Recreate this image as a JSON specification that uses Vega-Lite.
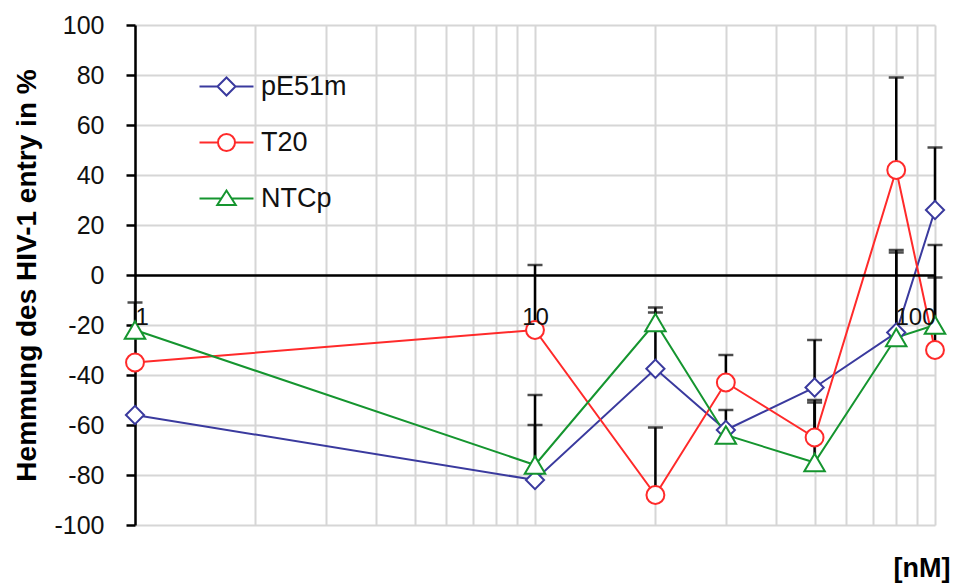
{
  "$schema": "https://vega.github.io/schema/vega-lite/v6.json",
  "width": 800,
  "height": 500,
  "autosize": {"type": "none"},
  "padding": {"left": 135, "top": 25, "right": 21, "bottom": 60},
  "background": "white",
  "config": {
    "font": "Liberation Sans",
    "view": {"stroke": null},
    "axis": {"labelColor": "#111111", "titleColor": "#000000"}
  },
  "data": {
    "values": [
      {"series": "pE51m", "conc": 1, "mean": -56, "hi": null},
      {"series": "pE51m", "conc": 10, "mean": -82, "hi": -60},
      {"series": "pE51m", "conc": 20, "mean": -37.5, "hi": -15},
      {"series": "pE51m", "conc": 30, "mean": -62, "hi": -54},
      {"series": "pE51m", "conc": 50, "mean": -45, "hi": -26},
      {"series": "pE51m", "conc": 80, "mean": -23, "hi": 10},
      {"series": "pE51m", "conc": 100, "mean": 26, "hi": 51},
      {"series": "T20", "conc": 1, "mean": -35, "hi": null},
      {"series": "T20", "conc": 10, "mean": -22, "hi": 4},
      {"series": "T20", "conc": 20, "mean": -88, "hi": -61},
      {"series": "T20", "conc": 30, "mean": -43, "hi": -32},
      {"series": "T20", "conc": 50, "mean": -65, "hi": -50},
      {"series": "T20", "conc": 80, "mean": 42, "hi": 79},
      {"series": "T20", "conc": 100, "mean": -30, "hi": -1},
      {"series": "NTCp", "conc": 1, "mean": -22, "hi": -11},
      {"series": "NTCp", "conc": 10, "mean": -76, "hi": -48},
      {"series": "NTCp", "conc": 20, "mean": -19, "hi": -13},
      {"series": "NTCp", "conc": 30, "mean": -64, "hi": null},
      {"series": "NTCp", "conc": 50, "mean": -75, "hi": -51},
      {"series": "NTCp", "conc": 80, "mean": -25, "hi": 9},
      {"series": "NTCp", "conc": 100, "mean": -20, "hi": 12}
    ]
  },
  "resolve": {"axis": {"x": "independent", "y": "independent"}},
  "layer": [
    {
      "transform": [{"filter": {"field": "hi", "valid": true}}],
      "mark": {"type": "rule", "color": "black", "strokeWidth": 2.5},
      "encoding": {
        "x": {
          "field": "conc", "type": "quantitative",
          "scale": {"type": "log", "domain": [1, 100], "nice": false},
          "axis": {
            "orient": "bottom",
            "values": [1, 2, 3, 4, 5, 6, 7, 8, 9, 10, 20, 30, 40, 50, 60, 70, 80, 90, 100],
            "grid": true, "gridColor": "#d6d6d6", "gridWidth": 2,
            "labels": false, "ticks": false, "domain": false,
            "title": "[nM]", "titleFontSize": 27, "titleFontWeight": "bold",
            "titleAlign": "right", "titleBaseline": "middle",
            "titleX": 815, "titleY": 43, "zindex": 0
          }
        },
        "y": {
          "field": "mean", "type": "quantitative",
          "scale": {"domain": [-100, 100], "nice": false, "zero": false},
          "axis": {
            "orient": "left",
            "values": [-100, -80, -60, -40, -20, 0, 20, 40, 60, 80, 100],
            "labelExpr": "'' + datum.value",
            "grid": true, "gridColor": "#d6d6d6", "gridWidth": 2,
            "domainColor": "black", "domainWidth": 2.5,
            "tickColor": "black", "tickWidth": 2.5, "tickSize": 9,
            "labelFontSize": 25, "labelPadding": 22,
            "title": "Hemmung des HIV-1 entry in %",
            "titleFontSize": 28, "titleFontWeight": "bold", "titlePadding": 12,
            "zindex": 0
          }
        },
        "y2": {"field": "hi"}
      }
    },
    {
      "transform": [{"filter": {"field": "hi", "valid": true}}],
      "mark": {"type": "tick", "orient": "horizontal", "color": "black", "size": 15, "thickness": 2.5},
      "encoding": {
        "x": {"field": "conc", "type": "quantitative", "axis": null},
        "y": {"field": "hi", "type": "quantitative", "axis": null}
      }
    },
    {
      "mark": {"type": "line", "strokeWidth": 2},
      "encoding": {
        "x": {
          "field": "conc", "type": "quantitative",
          "axis": {
            "orient": "bottom", "offset": -250,
            "values": [1, 10, 100], "format": "d",
            "grid": false, "ticks": false, "tickSize": 0,
            "domainColor": "black", "domainWidth": 2.5,
            "labelFontSize": 24, "labelColor": "#111111", "labelPadding": 30,
            "title": null, "zindex": 1
          }
        },
        "y": {"field": "mean", "type": "quantitative", "axis": null},
        "color": {
          "field": "series", "type": "nominal",
          "scale": {"domain": ["pE51m", "T20", "NTCp"], "range": ["#3a3a9e", "#ff2a2a", "#15952f"]},
          "legend": {
            "title": null, "orient": "none", "legendX": 78, "legendY": 48,
            "padding": 0, "rowPadding": 28,
            "labelFontSize": 27, "labelColor": "#111111", "labelOffset": 21,
            "symbolSize": 100, "symbolStrokeWidth": 2, "symbolFillColor": "white",
            "encoding": {
              "symbols": {
                "shape": {"value": {"expr": "datum.value === 'pE51m' ? 'M-5.4,0L-1.8,0M1.8,0L5.4,0M-1.8,0L0,-1.8L1.8,0L0,1.8Z' : datum.value === 'T20' ? 'M-5.4,0L-1.7,0M1.7,0L5.4,0M-1.7,0A1.7,1.7 0 1,1 1.7,0A1.7,1.7 0 1,1 -1.7,0Z' : 'M-5.4,0L-1.0,0M1.0,0L5.4,0M0,-1.6L-1.85,1.3L1.85,1.3Z'"}},
                "fill": {"value": "white"},
                "strokeWidth": {"value": 2}
              }
            }
          }
        }
      }
    },
    {
      "transform": [{"filter": {"field": "series", "equal": "pE51m"}}],
      "mark": {"type": "point", "shape": "diamond", "size": 330, "filled": true, "fill": "white", "stroke": "#3a3a9e", "strokeWidth": 2, "opacity": 1},
      "encoding": {
        "x": {"field": "conc", "type": "quantitative", "axis": null},
        "y": {"field": "mean", "type": "quantitative", "axis": null}
      }
    },
    {
      "transform": [{"filter": {"field": "series", "equal": "T20"}}],
      "mark": {"type": "point", "shape": "circle", "size": 320, "filled": true, "fill": "white", "stroke": "#ff2a2a", "strokeWidth": 2, "opacity": 1},
      "encoding": {
        "x": {"field": "conc", "type": "quantitative", "axis": null},
        "y": {"field": "mean", "type": "quantitative", "axis": null}
      }
    },
    {
      "transform": [{"filter": {"field": "series", "equal": "NTCp"}}],
      "mark": {"type": "point", "shape": "triangle-up", "size": 420, "filled": true, "fill": "white", "stroke": "#15952f", "strokeWidth": 2, "opacity": 1},
      "encoding": {
        "x": {"field": "conc", "type": "quantitative", "axis": null},
        "y": {"field": "mean", "type": "quantitative", "axis": null}
      }
    }
  ]
}
